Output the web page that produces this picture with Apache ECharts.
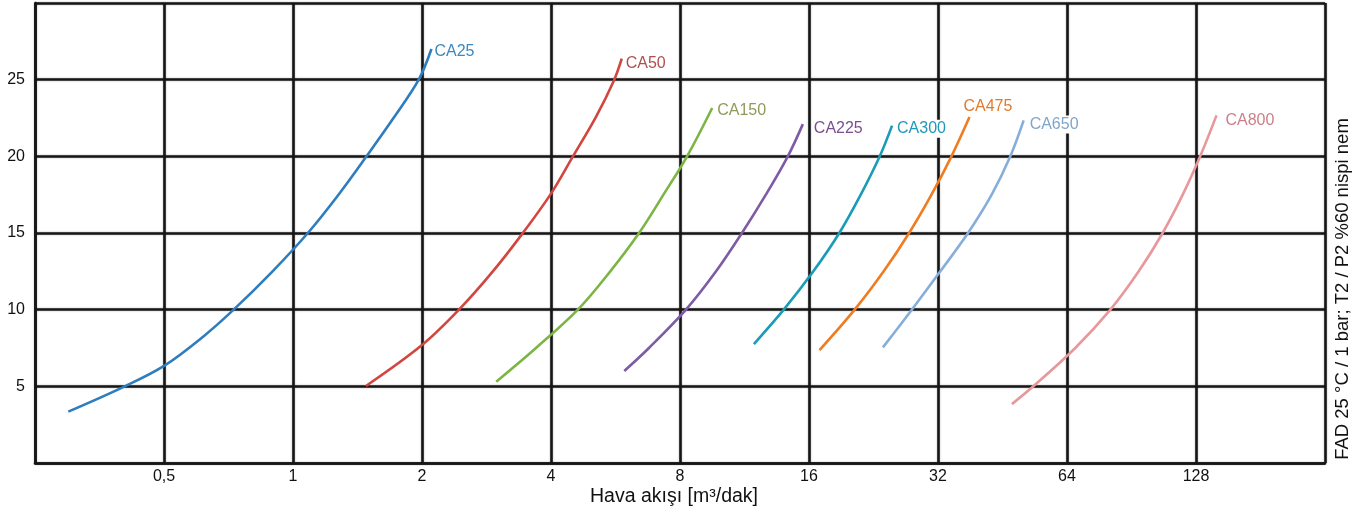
<!DOCTYPE html>
<html>
<head>
<meta charset="utf-8">
<script src="https://cdn.jsdelivr.net/npm/echarts@6/dist/echarts.min.js"></script>
<style>
html,body{margin:0;padding:0;background:#fff;overflow:hidden;}
#chart{width:100vw;height:100vh;}
</style>
</head>
<body>
<div id="chart"></div>
<script>
// ---- data ----
const seriesNames = ['CA25','CA50','CA150','CA225','CA300','CA475','CA650','CA800'];
const ca25  = [[0.299,3.35],[0.405,5.0],[0.5,6.33],[0.617,8.24],[0.727,10],[0.896,12.5],[1.083,15],[1.277,17.5],[1.484,20],[1.716,22.5],[1.965,25],[2.104,27.0]];
const ca50  = [[1.48,5.02],[2.0,7.69],[2.44,10],[2.92,12.46],[3.43,14.96],[4.0,17.57],[4.49,19.95],[5.09,22.56],[5.61,24.95],[5.85,26.37]];
const ca150 = [[2.98,5.3],[3.69,7.5],[4.62,10],[5.50,12.5],[6.42,15],[7.32,17.5],[8.31,20],[9.51,23.15]];
const ca225 = [[5.93,6.0],[6.77,7.5],[8.26,10],[9.71,12.5],[11.16,15],[12.69,17.5],[14.28,20],[15.48,22.1]];
const ca300 = [[11.9,7.76],[13.97,10],[16.38,12.5],[18.83,15],[21.13,17.5],[23.4,20],[25.0,22.0]];
const ca475 = [[16.93,7.36],[20.45,10],[23.9,12.5],[27.4,15],[30.9,17.5],[34.4,20],[37.9,22.56]];
const ca650 = [[23.8,7.54],[27.8,10],[32.4,12.5],[37.6,15],[42.7,17.5],[47.2,20],[50.7,22.34]];
const ca800 = [[47.6,3.84],[53.4,5.0],[66.9,7.5],[80.8,10],[94.1,12.5],[107.0,15],[119.2,17.5],[130.9,20],[142.9,22.67]];
const seriesData = [ca25, ca50, ca150, ca225, ca300, ca475, ca650, ca800];
const xTicks = [0.5,1,2,4,8,16,32,64,128];
const xTickLabels = ['0,5','1','2','4','8','16','32','64','128'];
const yTicks = [5,10,15,20,25];
const xTitle = 'Hava akışı [m³/dak]';
const yTitle = 'FAD 25 °C / 1 bar; T2 / P2 %60 nispi nem';

// ---- styles ----
const FONT = 'Liberation Sans, Arial, sans-serif';
const lineColors  = ['#2E7DBE','#D1463F','#7DB545','#7E5BA5','#1A9CB6','#F07C22','#86AEDB','#E8979B'];
const labelColors = ['#3C88C1','#B0504C','#8C9C58','#7A4F90','#2198BA','#E07A2E','#7FA6CB','#CC7F8A'];
const labelOffsets = [[0,3],[1,5],[2,3],[8,4],[2,3],[-9,-10],[3,4],[6,5]];

const chart = echarts.init(document.getElementById('chart'), null, {renderer:'canvas'});
const gridLine = {color:'#161616', width:2.6, shadowColor:'rgba(0,0,0,0.35)', shadowBlur:2};

const series = seriesNames.map((n,i)=>({
  name:n, type:'line', data:seriesData[i], smooth:0.35, showSymbol:false,
  lineStyle:{color:lineColors[i], width:2.6},
  itemStyle:{color:lineColors[i]},
  z:5,
  endLabel:{show:true, formatter:'{a}', color:labelColors[i], fontSize:16,
    fontFamily:FONT, distance:2,
    offset:labelOffsets[i], backgroundColor:'#fff', padding:[1,1]}
}));

chart.setOption({
  animation:false,
  backgroundColor:'#fff',
  grid:{left:35, right:42, top:3, bottom:52, containLabel:false},
  xAxis:{
    type:'log', logBase:2, min:0.25, max:256, interval:1, splitNumber:10,
    axisLine:{show:true, lineStyle:{color:'#161616', width:2.6}},
    axisTick:{show:false},
    axisLabel:{color:'#111', fontSize:16, margin:6, fontFamily:FONT,
      formatter:v=>{const k=xTicks.findIndex(t=>Math.abs(t-v)<1e-6); return k>=0?xTickLabels[k]:'';}},
    splitLine:{show:true, lineStyle:gridLine}
  },
  yAxis:{
    type:'value', min:0, max:30, interval:5,
    axisLine:{show:true, lineStyle:{color:'#161616', width:2.6}},
    axisTick:{show:false},
    axisLabel:{color:'#111', fontSize:16, margin:10, fontFamily:FONT,
      formatter:v=>yTicks.indexOf(v)>=0?String(v):''},
    splitLine:{show:true, lineStyle:gridLine}
  },
  graphic:[
    {type:'text', x:1343, y:289, rotation:Math.PI/2,
      style:{text:yTitle, fill:'#111', fontSize:18.5, fontFamily:FONT,
        textAlign:'center', textVerticalAlign:'middle'}},
    {type:'text', x:674, y:497,
      style:{text:xTitle, fill:'#111', fontSize:19.5, fontFamily:FONT,
        textAlign:'center', textVerticalAlign:'middle'}}
  ],
  series:series
});
</script>
</body>
</html>
